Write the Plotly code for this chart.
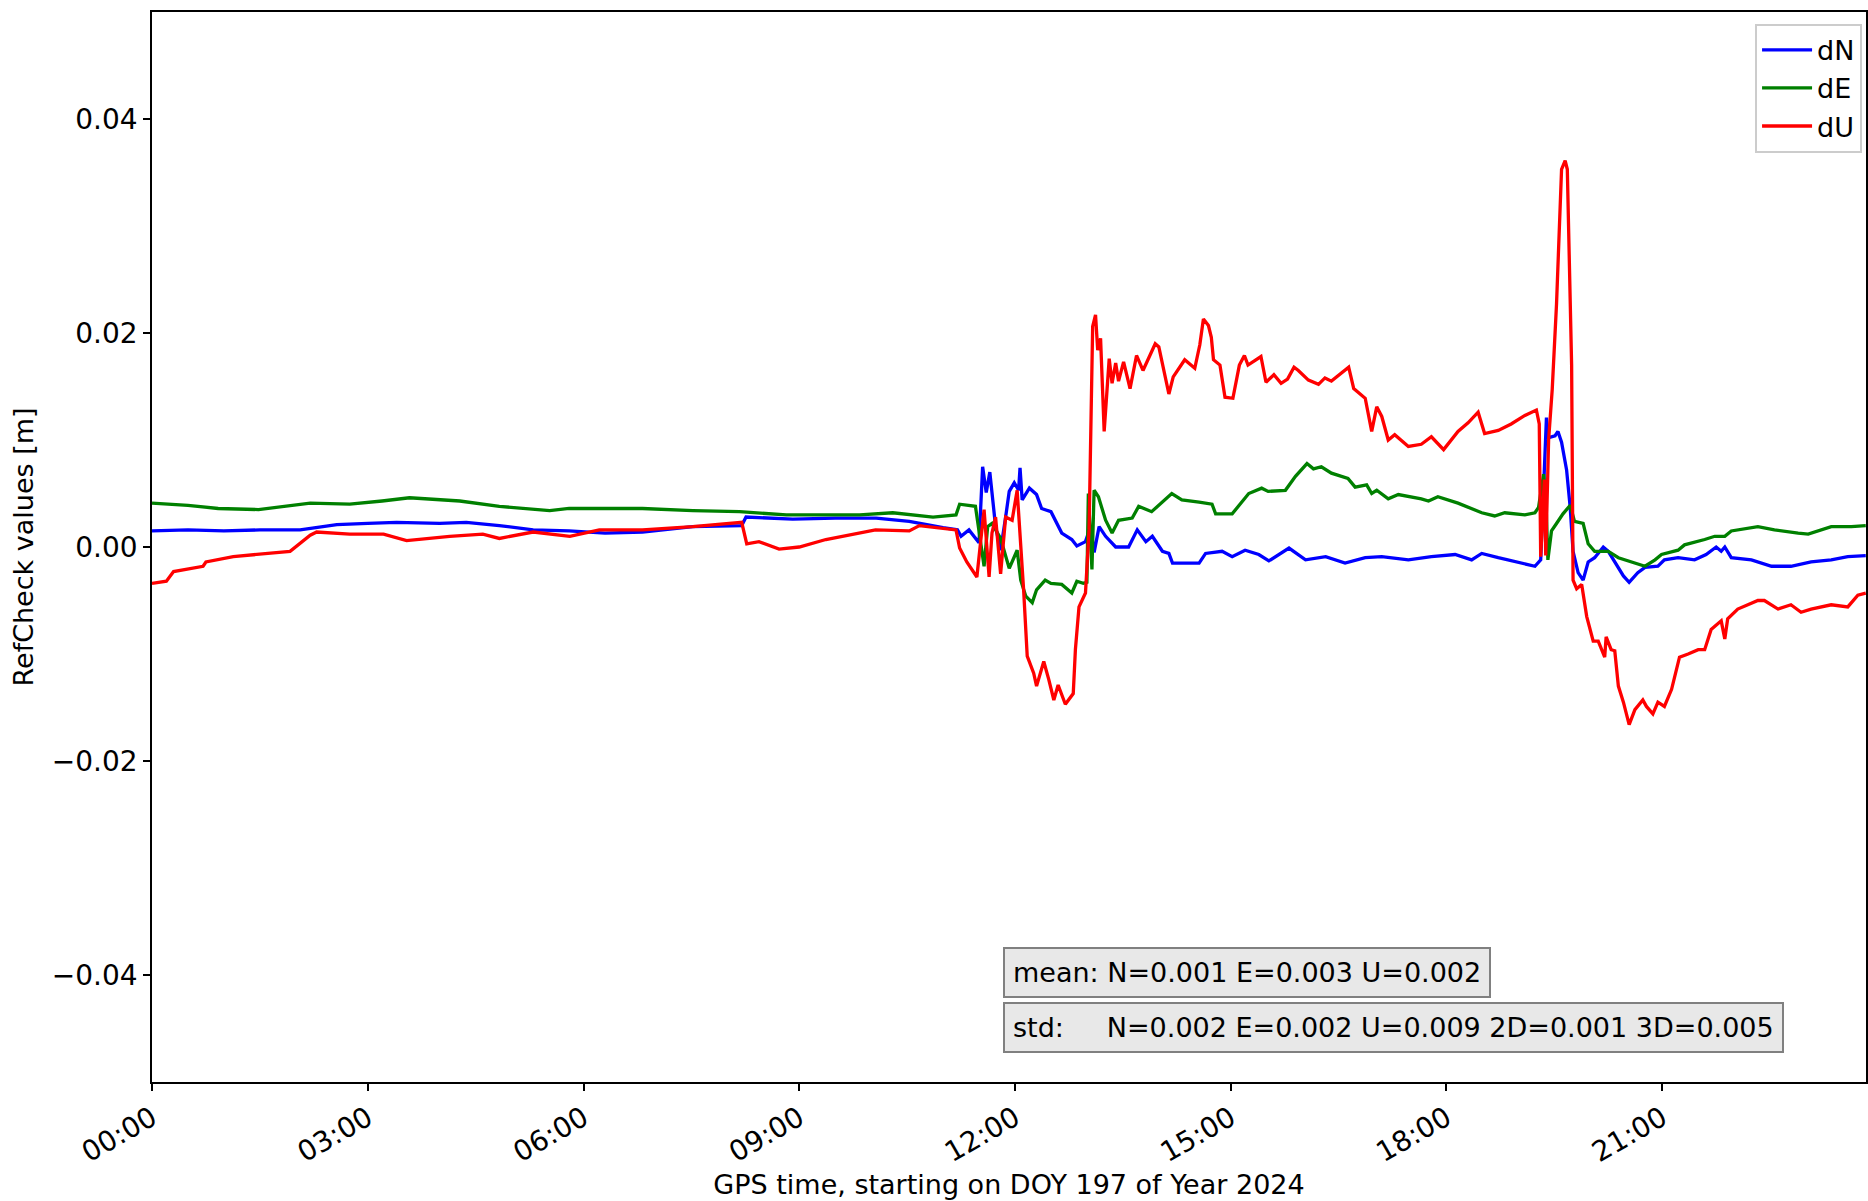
import pandas as pd
import plotly.graph_objects as go

# (hour of day, value in m), DOY 197 / 2024
dN = [(0, 0.0015), (0.5, 0.0016), (1.0, 0.0015), (1.5, 0.0016), (2.06, 0.0016), (2.57, 0.0021),
      (3.0, 0.0022), (3.4, 0.0023), (4.0, 0.0022), (4.37, 0.0023), (4.83, 0.0020), (5.3, 0.0016),
      (5.8, 0.0015), (6.3, 0.0013), (6.82, 0.0014), (7.52, 0.0019), (8.2, 0.0020), (8.26, 0.0028),
      (8.91, 0.0026), (9.5, 0.0027), (10.07, 0.0027), (10.53, 0.0024), (11.0, 0.0018), (11.2, 0.0016),
      (11.25, 0.0010), (11.36, 0.0016), (11.5, 0.0004), (11.55, 0.0075), (11.6, 0.0051), (11.65, 0.0070),
      (11.73, 0.0019), (11.8, -0.0003), (11.87, 0.0028), (11.92, 0.0052), (11.99, 0.0060), (12.05, 0.0053),
      (12.07, 0.0074), (12.1, 0.0044), (12.2, 0.0055), (12.3, 0.0049), (12.37, 0.0036), (12.5, 0.0033),
      (12.65, 0.0013), (12.79, 0.0007), (12.86, 0.0001), (12.98, 0.0005), (13.05, 0.0019), (13.1, -0.0005),
      (13.17, 0.0019), (13.26, 0.0010), (13.4, 0.0000), (13.58, 0.0000), (13.7, 0.0016), (13.82, 0.0005),
      (13.91, 0.0010), (14.05, -0.0004), (14.14, -0.0006), (14.19, -0.0015), (14.56, -0.0015), (14.65, -0.0006),
      (14.88, -0.0004), (15.02, -0.0009), (15.2, -0.0003), (15.39, -0.0007), (15.53, -0.0013), (15.81, -0.0001),
      (16.04, -0.0012), (16.32, -0.0009), (16.59, -0.0015), (16.87, -0.0010), (17.1, -0.0009), (17.47, -0.0012),
      (17.79, -0.0009), (18.12, -0.0007), (18.35, -0.0012), (18.49, -0.0006), (18.72, -0.0010), (19.0, -0.0014),
      (19.23, -0.0018), (19.31, -0.0012), (19.35, 0.0056), (19.39, 0.0121), (19.41, 0.0102), (19.51, 0.0104),
      (19.55, 0.0108), (19.6, 0.0098), (19.67, 0.0072), (19.72, 0.0037), (19.76, -0.0004), (19.83, -0.0024),
      (19.9, -0.0031), (19.97, -0.0014), (20.06, -0.0010), (20.18, 0.0000), (20.25, -0.0004), (20.36, -0.0016),
      (20.46, -0.0027), (20.54, -0.0033), (20.66, -0.0024), (20.76, -0.0019), (20.94, -0.0018), (21.03, -0.0012),
      (21.22, -0.0010), (21.45, -0.0012), (21.61, -0.0007), (21.75, 0.0000), (21.82, -0.0004), (21.87, 0.0000),
      (21.96, -0.0010), (22.24, -0.0012), (22.52, -0.0018), (22.79, -0.0018), (23.07, -0.0014), (23.35, -0.0012),
      (23.58, -0.0009), (23.83, -0.0008)]

dE = [(0, 0.0041), (0.5, 0.0039), (0.92, 0.0036), (1.48, 0.0035), (2.2, 0.0041), (2.75, 0.0040),
      (3.2, 0.0043), (3.58, 0.0046), (4.28, 0.0043), (4.83, 0.0038), (5.53, 0.0034), (5.8, 0.0036),
      (6.3, 0.0036), (6.82, 0.0036), (7.52, 0.0034), (8.17, 0.0033), (8.82, 0.0030), (9.84, 0.0030),
      (10.3, 0.0032), (10.86, 0.0028), (11.18, 0.0030), (11.23, 0.0040), (11.45, 0.0038), (11.57, -0.0018),
      (11.62, 0.0019), (11.68, 0.0022), (11.8, 0.0008), (11.92, -0.0020), (12.03, -0.0003), (12.08, -0.0031),
      (12.15, -0.0046), (12.24, -0.0052), (12.3, -0.0040), (12.42, -0.0031), (12.5, -0.0034), (12.65, -0.0035),
      (12.79, -0.0043), (12.86, -0.0032), (12.95, -0.0034), (13.0, -0.0033), (13.02, 0.0050), (13.07, -0.0021),
      (13.1, 0.0053), (13.16, 0.0047), (13.26, 0.0025), (13.35, 0.0013), (13.44, 0.0025), (13.63, 0.0027),
      (13.72, 0.0038), (13.9, 0.0033), (14.18, 0.0050), (14.32, 0.0044), (14.56, 0.0042), (14.74, 0.0040),
      (14.79, 0.0031), (15.02, 0.0031), (15.25, 0.0050), (15.43, 0.0055), (15.52, 0.0052), (15.76, 0.0053),
      (15.9, 0.0066), (16.06, 0.0078), (16.15, 0.0073), (16.26, 0.0075), (16.4, 0.0069), (16.63, 0.0064),
      (16.73, 0.0056), (16.89, 0.0058), (16.96, 0.0050), (17.03, 0.0053), (17.19, 0.0045), (17.33, 0.0049),
      (17.65, 0.0045), (17.75, 0.0043), (17.88, 0.0047), (18.16, 0.0041), (18.49, 0.0032), (18.67, 0.0029),
      (18.81, 0.0032), (19.09, 0.0030), (19.23, 0.0032), (19.28, 0.0037), (19.35, 0.0068), (19.38, 0.0050),
      (19.41, -0.0012), (19.46, 0.0015), (19.53, 0.0022), (19.62, 0.0031), (19.72, 0.0039), (19.78, 0.0024),
      (19.9, 0.0022), (19.97, 0.0003), (20.06, -0.0004), (20.25, -0.0004), (20.39, -0.0010), (20.57, -0.0014),
      (20.76, -0.0018), (20.9, -0.0012), (20.99, -0.0007), (21.22, -0.0003), (21.31, 0.0002), (21.59, 0.0007),
      (21.73, 0.0010), (21.87, 0.0010), (21.96, 0.0015), (22.33, 0.0019), (22.56, 0.0016), (22.89, 0.0013),
      (23.03, 0.0012), (23.35, 0.0019), (23.63, 0.0019), (23.83, 0.0020)]

dU = [(0, -0.0034), (0.2, -0.0032), (0.3, -0.0023), (0.71, -0.0018), (0.75, -0.0014), (1.13, -0.0009),
      (1.92, -0.0004), (2.2, 0.0011), (2.29, 0.0014), (2.75, 0.0012), (3.22, 0.0012), (3.54, 0.0006),
      (4.14, 0.0010), (4.6, 0.0012), (4.83, 0.0008), (5.3, 0.0014), (5.81, 0.0010), (6.22, 0.0016),
      (6.82, 0.0016), (7.52, 0.0019), (8.2, 0.0023), (8.27, 0.0003), (8.44, 0.0005), (8.72, -0.0002),
      (9.0, 0.0000), (9.37, 0.0007), (10.06, 0.0016), (10.53, 0.0015), (10.67, 0.0020), (11.18, 0.0016),
      (11.23, -0.0001), (11.33, -0.0014), (11.47, -0.0028), (11.57, 0.0035), (11.64, -0.0028), (11.68, 0.0013),
      (11.73, 0.0028), (11.8, -0.0025), (11.87, 0.0028), (11.96, 0.0025), (12.03, 0.0053), (12.08, 0.0007),
      (12.12, -0.0040), (12.17, -0.0102), (12.26, -0.0118), (12.3, -0.0130), (12.4, -0.0107), (12.47, -0.0124),
      (12.54, -0.0143), (12.6, -0.0129), (12.7, -0.0147), (12.81, -0.0137), (12.84, -0.0096), (12.89, -0.0056),
      (12.98, -0.0043), (13.03, 0.0016), (13.08, 0.0206), (13.12, 0.0217), (13.15, 0.0184), (13.19, 0.0195),
      (13.24, 0.0108), (13.31, 0.0176), (13.35, 0.0153), (13.4, 0.0172), (13.44, 0.0155), (13.51, 0.0173),
      (13.6, 0.0148), (13.69, 0.0179), (13.78, 0.0165), (13.95, 0.0190), (14.0, 0.0187), (14.14, 0.0143),
      (14.2, 0.0159), (14.36, 0.0175), (14.5, 0.0167), (14.57, 0.0189), (14.62, 0.0213), (14.69, 0.0207),
      (14.73, 0.0196), (14.76, 0.0175), (14.85, 0.0170), (14.92, 0.0140), (15.03, 0.0139), (15.12, 0.0170),
      (15.19, 0.0179), (15.24, 0.0170), (15.42, 0.0178), (15.49, 0.0154), (15.6, 0.0161), (15.7, 0.0153),
      (15.79, 0.0157), (15.88, 0.0168), (15.94, 0.0165), (16.08, 0.0156), (16.22, 0.0152), (16.31, 0.0158),
      (16.4, 0.0155), (16.64, 0.0168), (16.71, 0.0148), (16.87, 0.0139), (16.96, 0.0108), (17.03, 0.0131),
      (17.1, 0.0122), (17.19, 0.0100), (17.28, 0.0105), (17.47, 0.0094), (17.65, 0.0096), (17.79, 0.0103),
      (17.96, 0.0091), (18.16, 0.0108), (18.3, 0.0116), (18.44, 0.0126), (18.53, 0.0106), (18.72, 0.0109),
      (18.9, 0.0115), (19.09, 0.0123), (19.25, 0.0128), (19.29, 0.0115), (19.31, -0.0009), (19.36, 0.0063),
      (19.38, -0.0008), (19.42, 0.0100), (19.47, 0.0147), (19.53, 0.0227), (19.6, 0.0353), (19.65, 0.0361),
      (19.68, 0.0353), (19.74, 0.0170), (19.76, -0.0031), (19.81, -0.0039), (19.88, -0.0035), (19.95, -0.0065),
      (20.04, -0.0088), (20.11, -0.0088), (20.2, -0.0103), (20.22, -0.0084), (20.29, -0.0096), (20.34, -0.0097),
      (20.39, -0.0130), (20.46, -0.0145), (20.54, -0.0166), (20.62, -0.0152), (20.73, -0.0143), (20.78, -0.0149),
      (20.87, -0.0156), (20.94, -0.0145), (21.03, -0.0149), (21.13, -0.0133), (21.24, -0.0103), (21.36, -0.0100),
      (21.5, -0.0096), (21.59, -0.0096), (21.68, -0.0077), (21.82, -0.0069), (21.87, -0.0086), (21.91, -0.0067),
      (22.05, -0.0058), (22.33, -0.0050), (22.42, -0.0050), (22.61, -0.0058), (22.79, -0.0054), (22.93, -0.0061),
      (23.07, -0.0058), (23.35, -0.0054), (23.58, -0.0056), (23.72, -0.0045), (23.83, -0.0043)]

series_names = ["dN", "dE", "dU"]
series_colors = ["#0000ff", "#008000", "#ff0000"]

mean_text = "mean: N=0.001 E=0.003 U=0.002"
std_text = "std:\u00a0\u00a0\u00a0\u00a0 N=0.002 E=0.002 U=0.009 2D=0.001 3D=0.005"

day0 = pd.Timestamp("2024-07-15")  # DOY 197 of 2024
FONT = "DejaVu Sans"

fig = go.Figure()
for name, color, pts in zip(series_names, series_colors, [dN, dE, dU]):
    df = pd.DataFrame(pts, columns=["hour", "val"])
    t = day0 + pd.to_timedelta(df["hour"], unit="h")
    fig.add_trace(go.Scatter(x=t, y=df["val"], mode="lines", name=name,
                             line=dict(color=color, width=3.3)))

box = dict(xref="paper", yref="paper", x=0.4965, xanchor="left", showarrow=False,
           font=dict(family=FONT, size=27, color="black"), bgcolor="#e8e8e8",
           bordercolor="#808080", borderwidth=2, borderpad=8, align="left")
fig.add_annotation(text=mean_text, y=0.102, yanchor="middle", **box)
fig.add_annotation(text=std_text, y=0.0514, yanchor="middle", **box)

fig.update_layout(
    width=1868, height=1201,
    margin=dict(l=152, r=0, t=12, b=119),
    paper_bgcolor="white", plot_bgcolor="white",
    font=dict(family=FONT, size=22.5, color="black"),
    legend=dict(x=0.9977, y=0.989, xanchor="right", yanchor="top", bgcolor="white",
                bordercolor="#cccccc", borderwidth=2, font=dict(size=27), itemwidth=50),
    showlegend=True,
)
fig.update_xaxes(
    type="date", range=[day0, day0 + pd.Timedelta(hours=23, minutes=50)],
    tickformat="%H:%M", dtick=3 * 3600 * 1000, tick0=day0, tickangle=-30,
    tickfont=dict(size=28),
    ticks="outside", ticklen=7, tickwidth=1.5, tickcolor="black",
    showline=True, linecolor="black", linewidth=1.5, mirror=True, showgrid=False, zeroline=False,
    title=dict(text="GPS time, starting on DOY 197 of Year 2024", standoff=6),
)
fig.update_yaxes(
    range=[-0.05, 0.05], dtick=0.02, tick0=0, tickformat=".2f",
    tickfont=dict(size=28),
    ticks="outside", ticklen=7, tickwidth=1.5, tickcolor="black",
    showline=True, linecolor="black", linewidth=1.5, mirror=True, showgrid=False, zeroline=False,
    title=dict(text="RefCheck values [m]", standoff=10),
)

fig.write_html("out.html", config={"displayModeBar": False},
               post_script="document.body.style.margin='0';")
